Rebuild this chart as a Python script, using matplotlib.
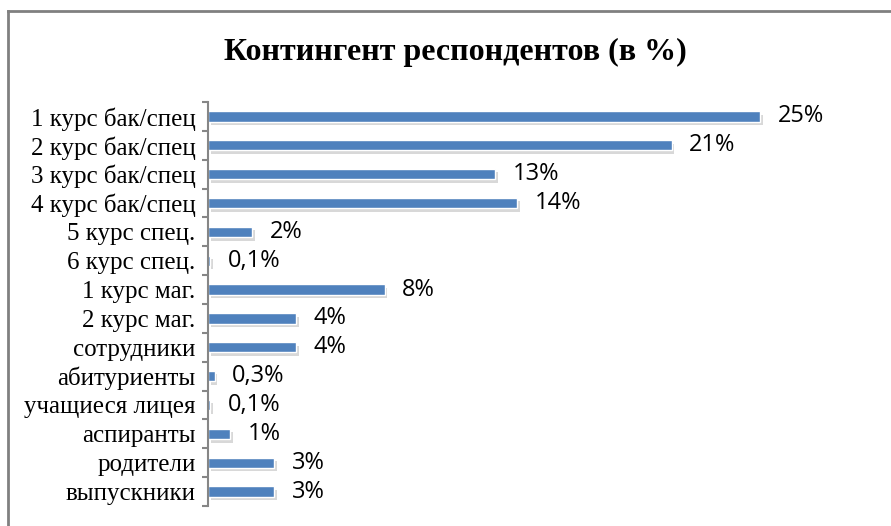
import matplotlib.pyplot as plt
import matplotlib.patheffects as pe
import numpy as np
from matplotlib.lines import Line2D

# Data
categories = ['1 курс бак/спец', '2 курс бак/спец', '3 курс бак/спец', '4 курс бак/спец',
              '5 курс спец.', '6 курс спец.', '1 курс маг.', '2 курс маг.', 'сотрудники',
              'абитуриенты', 'учащиеся лицея', 'аспиранты', 'родители', 'выпускники']
values = [25, 21, 13, 14, 2, 0.1, 8, 4, 4, 0.3, 0.1, 1, 3, 3]
value_labels = ['25%', '21%', '13%', '14%', '2%', '0,1%', '8%', '4%', '4%',
                '0,3%', '0,1%', '1%', '3%', '3%']

bar_color = '#4F81BD'
axis_color = '#868686'

fig = plt.figure(figsize=(8.91, 5.26), dpi=100)
ax = fig.add_axes([208 / 891, 1 - 506 / 526, 642 / 891, 404 / 526])

y = np.arange(len(categories))
bars = ax.barh(y, values, height=0.36, color=bar_color, edgecolor='white', linewidth=1.0)
for b in bars:
    b.set_path_effects([pe.SimplePatchShadow(offset=(2, -2.5), shadow_rgbFace='#909090', alpha=0.35),
                        pe.Normal()])

ax.set_xlim(0, 642 / 22.08)
ax.set_ylim(len(categories) - 0.5, -0.5)

# value labels
for yi, v, lab in zip(y, values, value_labels):
    ax.text(v + 0.8, yi, lab, va='center', ha='left', fontsize=17,
            family='Open Sans', color='black')

# axes styling
for s in ['top', 'right', 'bottom']:
    ax.spines[s].set_visible(False)
ax.spines['left'].set_color(axis_color)
ax.spines['left'].set_linewidth(1.5)
ax.set_xticks([])
ax.set_yticks(y)
ax.set_yticklabels(categories, family='Liberation Serif', fontsize=18)
ax.tick_params(axis='y', which='major', length=0, pad=9)
ax.set_yticks(np.arange(-0.5, len(categories) + 0.5, 1), minor=True)
ax.tick_params(axis='y', which='minor', length=4, width=1.5, color=axis_color, direction='out')

# title
fig.text(455 / 891, 1 - 52 / 526, 'Контингент респондентов (в %)', ha='center', va='center',
         family='Liberation Serif', fontweight='bold', fontsize=23)

# outer chart border (left and top only visible in crop)
fig.add_artist(Line2D([8 / 891, 8 / 891], [0, 1 - 11 / 526], transform=fig.transFigure,
                      color='#808080', linewidth=2))
fig.add_artist(Line2D([8 / 891, 1], [1 - 11 / 526, 1 - 11 / 526], transform=fig.transFigure,
                      color='#808080', linewidth=2))

fig.savefig('out.png', dpi=100)
